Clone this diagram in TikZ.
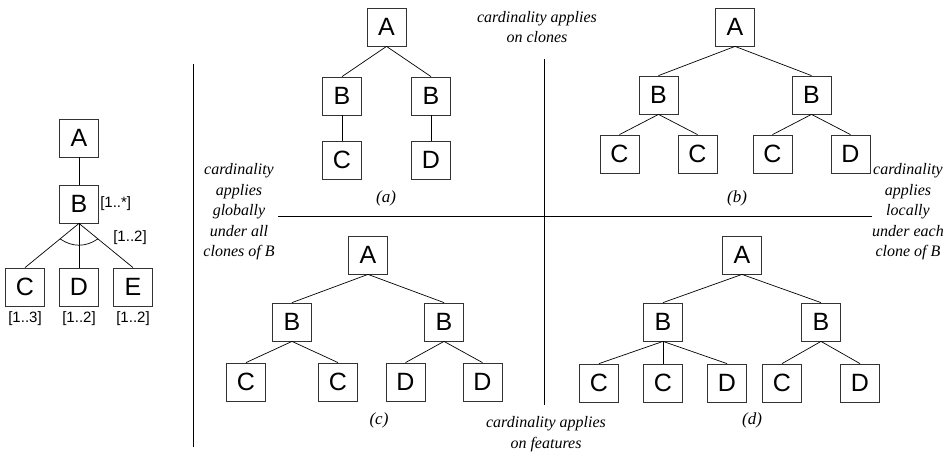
\documentclass[tikz,border=0pt]{standalone}
\usepackage{fontspec}
\setmainfont{Liberation Serif}
\newfontfamily\arial{Liberation Sans}
\usetikzlibrary{positioning,calc}
\tikzstyle{feature}=[draw=black!80,line width=0.8pt,minimum width=39pt,minimum height=38pt,inner sep=0pt,font=\arial\fontsize{25}{25}\selectfont]
\tikzstyle{card}=[inner sep=0pt,font=\arial\fontsize{15}{15}\selectfont]
\tikzstyle{note}=[align=center,font=\itshape\fontsize{16}{20.5}\selectfont]
\tikzstyle{caption}=[font=\itshape\fontsize{17}{17}\selectfont]
\tikzstyle{divider}=[line width=0.8pt]

\begin{document}
\begin{tikzpicture}[x=1pt,y=1pt,line width=0.7pt,
  every child node/.style={feature},
  edge from parent path={(\tikzparentnode.south) -- (\tikzchildnode.north)}]
  \useasboundingbox (0,0) rectangle (949,-457);
  \node[feature] (l-a) at (79,-138) {A} [level distance=66pt]
    child { node (l-b) {B} [level distance=83pt,sibling distance=54pt]
      child { node (l-c) {C}}
      child { node (l-d) {D}}
      child { node (l-e) {E}}
    };
  \node[card,right=1pt of l-b] (l-bcard) {[1..*]};
  \draw ($(l-b.south)!.35!(l-c.north)$) to[bend right=35] ($(l-b.south)!.35!(l-e.north)$);
  \node[card] (l-arccard) at (130,-238) {[1..2]};
  \node[card,below=5pt of l-c] (l-ccard) {[1..3]};
  \node[card,below=5pt of l-d] (l-dcard) {[1..2]};
  \node[card,below=5pt of l-e] (l-ecard) {[1..2]};

  \node[feature] (a-a) at (386.5,-27) {A} [level distance=69pt,sibling distance=89pt]
    child { node (a-b1) {B} [level distance=64pt]
      child { node (a-c) {C}}
    }
    child { node (a-b2) {B} [level distance=64pt]
      child { node (a-d) {D}}
    };
  \node[feature] (b-a) at (735,-27) {A} [level distance=68pt,sibling distance=153pt]
    child { node (b-b1) {B} [level distance=59pt,sibling distance=78pt]
      child { node (b-c1) {C}}
      child { node (b-c2) {C}}
    }
    child { node (b-b2) {B} [level distance=59pt,sibling distance=78pt]
      child { node (b-c3) {C}}
      child { node (b-d) {D}}
    };
  \node[feature] (c-a) at (368,-255) {A} [level distance=67pt,sibling distance=152pt]
    child { node (c-b1) {B} [level distance=60pt,sibling distance=92pt]
      child { node (c-c1) {C}}
      child { node (c-c2) {C}}
    }
    child { node (c-b2) {B} [level distance=60pt,sibling distance=77pt]
      child { node (c-d1) {D}}
      child { node (c-d2) {D}}
    };
  \node[feature] (d-a) at (742,-255) {A} [level distance=67pt,sibling distance=158pt]
    child { node (d-b1) {B} [level distance=61pt,sibling distance=64pt]
      child { node (d-c1) {C}}
      child { node (d-c2) {C}}
      child { node (d-d1) {D}}
    }
    child { node (d-b2) {B} [level distance=61pt,sibling distance=78pt]
      child { node (d-c3) {C}}
      child { node (d-d2) {D}}
    };

  \node[caption] (a-cap) at (386,-198) {(a)};
  \node[caption] (b-cap) at (737,-198) {(b)};
  \node[caption] (c-cap) at (379,-420) {(c)};
  \node[caption] (d-cap) at (752,-420) {(d)};

  \draw[divider] (193,-64) -- (193,-447);
  \draw[divider] (544,-59) -- (544,-405);
  \draw[divider] (278,-216) -- (872,-216);

  \node[note] (n-top) at (537,-27) {cardinality applies\\on clones};
  \node[note] (n-bot) at (546,-434) {cardinality applies\\on features};
  \node[note] (n-left) at (239,-212) {cardinality\\applies\\globally\\under all\\clones of B};
  \node[note] (n-right) at (908,-212) {cardinality\\applies\\locally\\under each\\clone of B};
\end{tikzpicture}
\end{document}
